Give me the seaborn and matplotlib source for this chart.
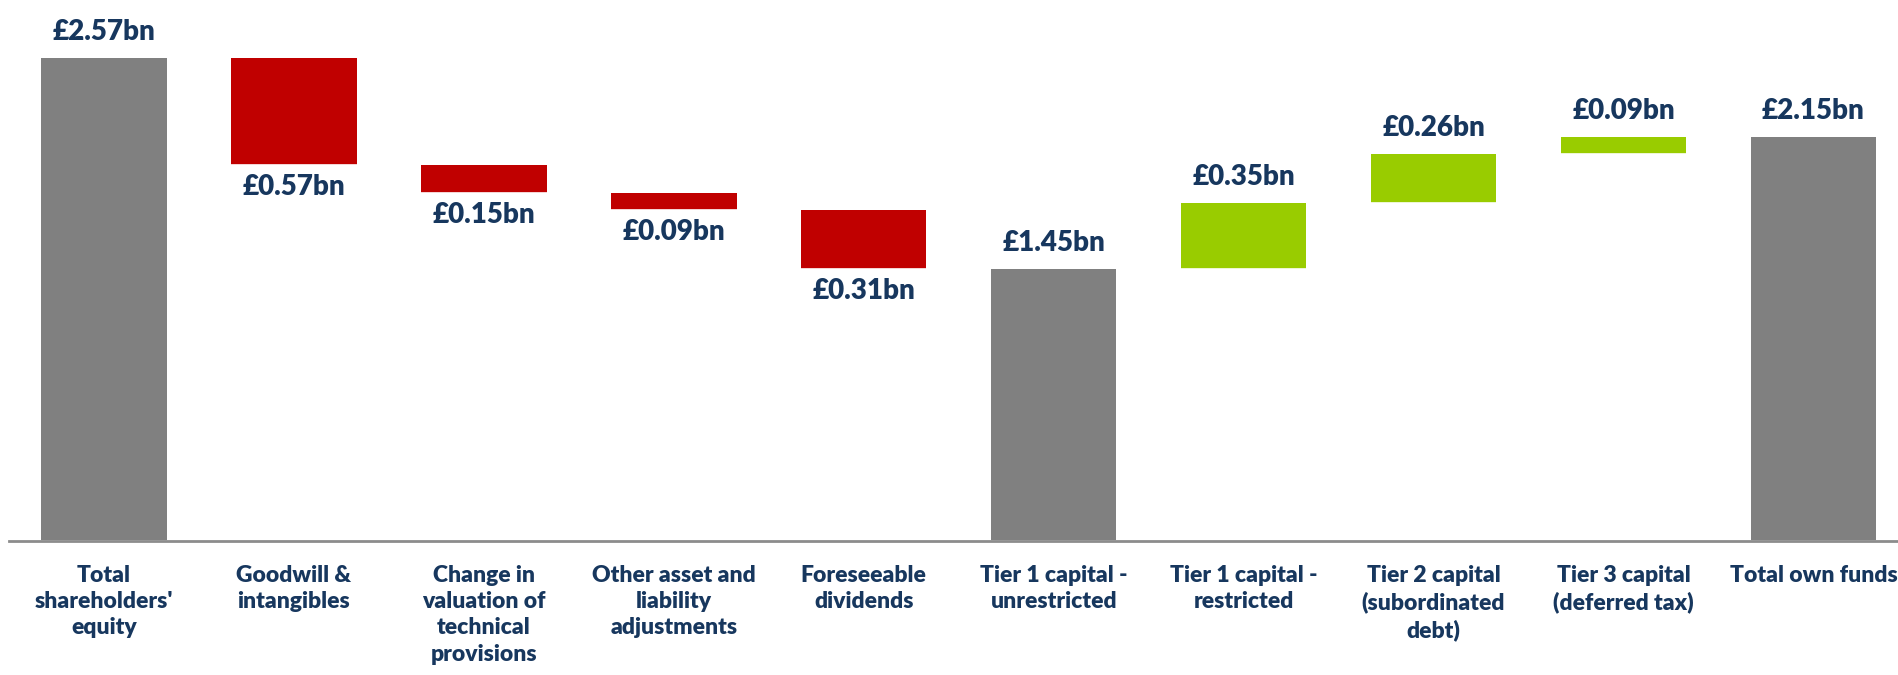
import pandas as pd
import seaborn as sns
import matplotlib.pyplot as plt
import numpy as np

# Data
categories = ["Total\nshareholders'\nequity", "Goodwill &\nintangibles",
              "Change in\nvaluation of\ntechnical\nprovisions",
              "Other asset and\nliability\nadjustments", "Foreseeable\ndividends",
              "Tier 1 capital -\nunrestricted", "Tier 1 capital -\nrestricted",
              "Tier 2 capital\n(subordinated\ndebt)", "Tier 3 capital\n(deferred tax)",
              "Total own funds"]
values = [2.57, -0.57, -0.15, -0.09, -0.31, 1.45, 0.35, 0.26, 0.09, 2.15]
kinds = ['total', 'dec', 'dec', 'dec', 'dec', 'total', 'inc', 'inc', 'inc', 'total']
labels = ['£2.57bn', '£0.57bn', '£0.15bn', '£0.09bn', '£0.31bn',
          '£1.45bn', '£0.35bn', '£0.26bn', '£0.09bn', '£2.15bn']

colors = {'total': '#808080', 'dec': '#C00000', 'inc': '#99CC00'}
navy = '#17375E'

# Build waterfall table
df = pd.DataFrame({'cat': categories, 'value': values, 'kind': kinds})
bottoms = []
running = 0.0
for v, k in zip(values, kinds):
    if k == 'total':
        bottoms.append(0.0)
        running = v
    else:
        bottoms.append(min(running, running + v))
        running += v
df['bottom'] = bottoms
df['top'] = df['bottom'] + df['value'].abs()

sns.set_style('white')
plt.rcParams['font.family'] = ['Lato', 'DejaVu Sans']
plt.rcParams['font.weight'] = 'bold'

fig = plt.figure(figsize=(18.99, 6.75), dpi=100)
ax = fig.add_axes([9 / 1899, 134 / 675, 1 - 9 / 1899, 1 - 134 / 675])

palette = [colors[k] for k in kinds]
sns.barplot(data=df, x='cat', y='top', hue='cat', palette=palette,
            saturation=1, width=0.66, linewidth=0, legend=False, ax=ax)
# white mask for the floating part
sns.barplot(data=df, x='cat', y='bottom', color='white', width=0.66,
            edgecolor='white', linewidth=1.2, saturation=1, ax=ax)

for i, row in df.iterrows():
    if row['kind'] == 'dec':
        ax.annotate(labels[i], (i, row['bottom']), xytext=(0, -22),
                    textcoords='offset pixels', ha='center', va='center',
                    fontsize=20, fontweight='heavy', color=navy)
    else:
        ax.annotate(labels[i], (i, row['top']), xytext=(0, 26),
                    textcoords='offset pixels', ha='center', va='center',
                    fontsize=20, fontweight='heavy', color=navy)

ax.set_xlim(-0.5, 9.45)
ax.set_ylim(0, 2.88)
ax.set_xlabel('')
ax.set_ylabel('')
ax.set_yticks([])
ax.tick_params(axis='x', length=0, pad=17, labelsize=16.5, labelcolor=navy)
for t in ax.get_xticklabels():
    t.set_fontweight('heavy')
    t.set_va('top')
    t.set_linespacing(1.32)
for s in ['top', 'right', 'left']:
    ax.spines[s].set_visible(False)
ax.spines['bottom'].set_color('#8C8C8C')
ax.spines['bottom'].set_linewidth(2)

fig.savefig('out.png', dpi=100)
